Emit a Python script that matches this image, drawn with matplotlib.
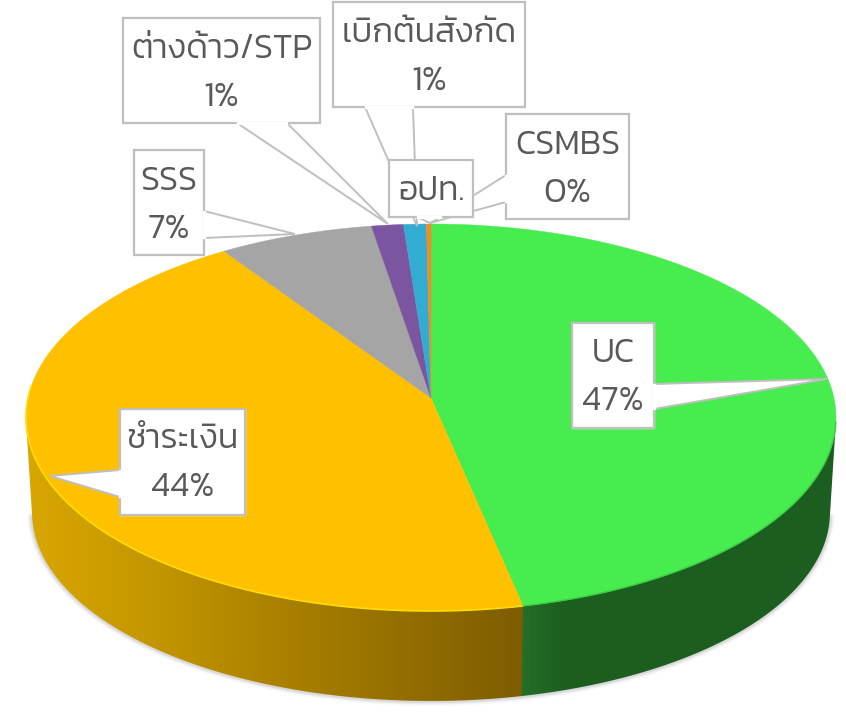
import numpy as np
import matplotlib
matplotlib.use('Agg')
import matplotlib.pyplot as plt
from matplotlib.colors import LinearSegmentedColormap
from matplotlib.patches import Polygon

# ---- data (clockwise from 12 o'clock)
slice_values = [46.7, 43.9, 6.8, 1.4, 1.0, 0.2]
slice_colors = ['#47EC4E', '#FFC000', '#A5A5A5', '#7B55A0', '#33ACD2', '#F58A25']

label_names = ['CSMBS', 'เบิกต้นสังกัด', 'ต่างด้าว/STP', 'SSS', 'UC', 'ชำระเงิน', 'อปท.']
label_pcts = ['0%', '1%', '1%', '7%', '47%', '44%', '']

# label boxes in pixels: left, top, right, bottom
label_boxes = [(506, 114, 629, 219), (333, 2, 525, 107), (123, 18, 320, 123),
               (134, 150, 204, 255), (572, 323, 654, 428), (120, 409, 245, 515),
               (389, 160, 473, 217)]
# callout tails: first base point, tip, second base point
label_tails = [((506, 175), (430, 223), (506, 202)),
               ((365, 107), (417, 226), (413, 107)),
               ((237, 123), (388, 224), (287, 123)),
               ((204, 211), (295, 234), (204, 238)),
               ((654, 384), (827, 379), (654, 409)),
               ((120, 470), (50, 476), (120, 497)),
               ((417, 217), (430, 223), (441, 217))]

# pie geometry in pixels
CX = 431
APEX_Y = 398
BACK_Y = 224
FRONT_Y = 611
RX = 405
BOTTOM_SHIFT = 95
BOTTOM_SCALE_X = 0.985
BOTTOM_SCALE_Y = 0.974
WALL_START = 0.27  # rim fraction of the right-hand silhouette
WALL_END = 0.73    # and of the left-hand one

BOX_EDGE = '#BFBFBF'
TEXT_COLOR = '#595959'
FONT = 'Kanit'


def rim(fractions):
    """Top rim points for pie fractions, with a slight perspective."""
    a = 2 * np.pi * np.asarray(fractions)
    u, v = np.sin(a), np.cos(a)
    back = APEX_Y - BACK_Y
    front = FRONT_Y - APEX_Y
    k = (front - back) / (front + back)
    w = 1 + k * v
    return CX + RX * np.sqrt(1 - k * k) * u / w, APEX_Y - back * (1 + k) * v / w


def lower(x, y):
    """Matching point on the bottom rim of the pie."""
    mid = (BACK_Y + FRONT_Y) / 2
    return CX + (x - CX) * BOTTOM_SCALE_X, mid + BOTTOM_SHIFT + (y - mid) * BOTTOM_SCALE_Y


fig = plt.figure(figsize=(8.46, 7.14), dpi=100)
ax = fig.add_axes([0, 0, 1, 1])

edges = np.concatenate([[0], np.cumsum(slice_values)]) / sum(slice_values)

# soft shadow under the wall
t = np.linspace(WALL_START, WALL_END, 300)
sx, sy = lower(*rim(t))
for lw, alpha in [(7, 0.04), (5, 0.07), (3, 0.12)]:
    ax.plot(sx, sy, color='#555555', lw=lw, alpha=alpha, solid_capstyle='round', zorder=1)

# side wall: green and yellow are the only slices seen from the front
wall_cmaps = [
    LinearSegmentedColormap.from_list('g', [(0, '#246F29'), (0.13, '#1C5E20'), (1, '#1C5E20')]),
    LinearSegmentedColormap.from_list('y', [(0, '#D9A700'), (0.2, '#C99A00'),
                                            (0.55, '#A67E00'), (1, '#7E5C00')]),
]
wall_spans = [(521, 840), (24, 526)]
wall_ranges = [(WALL_START, edges[1] + 0.002), (edges[1], WALL_END)]
for i in [0, 1]:
    t = np.linspace(wall_ranges[i][0], wall_ranges[i][1], 300)
    x, y = rim(t)
    bx, by = lower(x, y)
    outline = Polygon(np.c_[np.r_[x, bx[::-1]], np.r_[y, by[::-1]]], transform=ax.transData)
    img = ax.imshow(np.linspace(0, 1, 256)[None, :], cmap=wall_cmaps[i], aspect='auto',
                    extent=(wall_spans[i][0], wall_spans[i][1], 714, 0), zorder=2 + 0.1 * i)
    img.set_clip_path(outline)

ax.set_xlim(0, 846)
ax.set_ylim(714, 0)
ax.axis('off')

# top face
for i, val in enumerate(slice_values):
    t = np.linspace(edges[i], edges[i + 1], max(int(val * 12), 8))
    x, y = rim(t)
    ax.fill(np.r_[CX, x], np.r_[APEX_Y, y], color=slice_colors[i], lw=0.3, zorder=3)

# bright rim on the yellow, dark soft rim on the green
t = np.linspace(edges[1], 0.76, 200)
ax.plot(*rim(t), color='#FFDD00', lw=1.2, zorder=4)
t = np.linspace(WALL_START, edges[1], 200)
ax.plot(*rim(t), color='#3DCB43', lw=1.0, zorder=4)

# callouts, text
for i, name in enumerate(label_names):
    left, top, right, bottom = label_boxes[i]
    a, tip, b = label_tails[i]
    pts = [(left, top), (right, top), (right, bottom), (left, bottom), (left, top)]
    ax.fill([left, right, right, left], [top, top, bottom, bottom], color='white', zorder=5 + i)
    ax.plot(*zip(*pts), color=BOX_EDGE, lw=1.6, zorder=5 + i, solid_joinstyle='miter')
    ax.fill([a[0], tip[0], b[0]], [a[1], tip[1], b[1]], facecolor='white', edgecolor=BOX_EDGE, lw=1.4, zorder=5 + i)
    # hide the edge where the tail joins the box
    inset = 1.2
    if a[0] == b[0]:
        ax.plot([a[0], b[0]], [a[1] + inset, b[1] - inset], color='white', lw=2.4, zorder=5 + i)
    else:
        ax.plot([a[0] + inset, b[0] - inset], [a[1], b[1]], color='white', lw=2.4, zorder=5 + i)
    mid = (left + right) / 2
    ax.text(mid, top + 39.5, name, family=[FONT, 'DejaVu Sans'], weight=300, fontsize=24.5,
            color=TEXT_COLOR, ha='center', va='baseline', zorder=5 + i)
    if label_pcts[i]:
        ax.text(mid, top + 87.5, label_pcts[i], family=[FONT, 'DejaVu Sans'], weight=300, fontsize=25.5,
                color=TEXT_COLOR, ha='center', va='baseline', zorder=5 + i)

fig.savefig('out.png', dpi=100)
